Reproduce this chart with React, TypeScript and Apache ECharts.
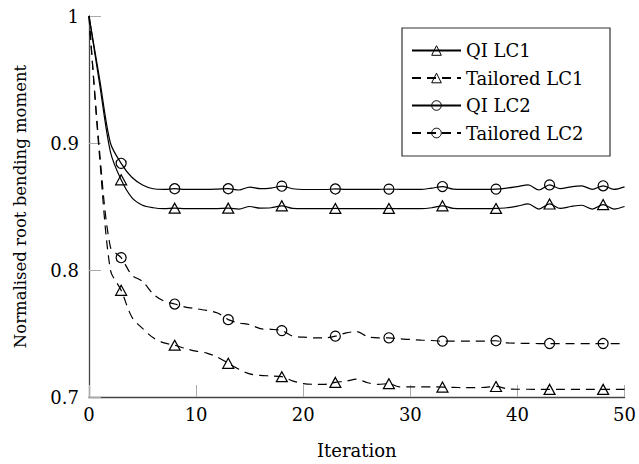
import React, { useEffect, useRef } from "react";
import * as echarts from "echarts";

const iterations = [
  0, 1, 2, 3, 4, 5, 6, 7, 8, 9, 10, 11, 12, 13, 14, 15, 16, 17, 18, 19, 20,
  21, 22, 23, 24, 25, 26, 27, 28, 29, 30, 31, 32, 33, 34, 35, 36, 37, 38, 39,
  40, 41, 42, 43, 44, 45, 46, 47, 48, 49, 50,
];

const qiLC1 = [
  1.0, 0.946, 0.893, 0.871, 0.857, 0.851, 0.849, 0.8483, 0.8487, 0.8483,
  0.8483, 0.8483, 0.8484, 0.8487, 0.848, 0.85, 0.8487, 0.849, 0.8505, 0.8485,
  0.8483, 0.8483, 0.8483, 0.8485, 0.8483, 0.8483, 0.8483, 0.8483, 0.8485, 0.8483,
  0.8483, 0.8483, 0.849, 0.8505, 0.8485, 0.8483, 0.8483, 0.8483, 0.8485, 0.849,
  0.8503, 0.852, 0.848, 0.852, 0.8485, 0.85, 0.851, 0.848, 0.8515, 0.848, 0.85,
];

const tailoredLC1 = [
  1.0, 0.888, 0.8, 0.784, 0.763, 0.754, 0.7466, 0.7426, 0.7408, 0.7382,
  0.7361, 0.7346, 0.7314, 0.7265, 0.7218, 0.7182, 0.717, 0.7166, 0.716, 0.7127,
  0.7106, 0.71, 0.71, 0.7115, 0.7125, 0.714, 0.7112, 0.71, 0.7105, 0.708,
  0.708, 0.708, 0.708, 0.7078, 0.7076, 0.7074, 0.7074, 0.7076, 0.7083, 0.7065,
  0.7061, 0.7061, 0.706, 0.706, 0.706, 0.706, 0.706, 0.706, 0.706, 0.706, 0.706,
];

const qiLC2 = [
  1.0, 0.95, 0.9, 0.884, 0.873, 0.867, 0.864, 0.8635, 0.864, 0.8635,
  0.8635, 0.8635, 0.8637, 0.864, 0.863, 0.8653, 0.864, 0.8645, 0.866, 0.864,
  0.8634, 0.8634, 0.8634, 0.8638, 0.8635, 0.8635, 0.8635, 0.8635, 0.8637, 0.8635,
  0.8635, 0.8635, 0.8645, 0.8657, 0.8637, 0.8635, 0.8635, 0.8635, 0.8637, 0.8645,
  0.8657, 0.867, 0.863, 0.867, 0.864, 0.8655, 0.8663, 0.8635, 0.8663, 0.8635, 0.8655,
];

const tailoredLC2 = [
  1.0, 0.892, 0.818, 0.8097, 0.796, 0.791, 0.781, 0.7755, 0.7732, 0.7708,
  0.7695, 0.7682, 0.7661, 0.7609, 0.7583, 0.757, 0.7538, 0.7533, 0.7523, 0.7479,
  0.7471, 0.7466, 0.7466, 0.7479, 0.7505, 0.7515, 0.7475, 0.7466, 0.7466, 0.7458,
  0.7453, 0.7448, 0.7445, 0.744, 0.744, 0.744, 0.744, 0.744, 0.7443, 0.7426,
  0.7424, 0.7422, 0.7421, 0.7421, 0.7421, 0.7421, 0.7421, 0.7421, 0.7421, 0.7421, 0.7421,
];

const markerIterations = [3, 8, 13, 18, 23, 28, 33, 38, 43, 48];
const seriesNames = ["QI LC1", "Tailored LC1", "QI LC2", "Tailored LC2"];
const yTickLabels: Record<string, string> = { "0.7": "0.7", "0.8": "0.8", "0.9": "0.9", "1": "1" };

const FONT = "DejaVu Serif";
const FS = 18;

function buildData(values: number[], symbol: string) {
  return iterations.map((it, i) => ({
    value: [it, values[i]],
    symbol: markerIterations.includes(it) ? symbol : "none",
  }));
}

function makeSeries(name: string, values: number[], symbol: string, dashed: boolean) {
  return {
    name,
    type: "line",
    data: buildData(values, symbol),
    smooth: 0.3,
    symbol,
    symbolSize: symbol === "triangle" ? [11, 10] : 10,
    showAllSymbol: true,
    lineStyle: {
      color: "#000",
      width: 1.2,
      type: dashed ? [9, 6] : "solid",
    },
    itemStyle: {
      color: "rgba(255,255,255,0)",
      borderColor: "#000",
      borderWidth: 1.2,
    },
    emphasis: { disabled: true },
  };
}

export default function App() {
  const ref = useRef<HTMLDivElement>(null);

  useEffect(() => {
    if (!ref.current) return;
    const chart = echarts.init(ref.current, undefined, { renderer: "svg" });
    chart.setOption({
      animation: false,
      backgroundColor: "#fff",
      grid: { left: 89, right: 12, top: 16, bottom: 64.5, containLabel: false },
      xAxis: {
        type: "value",
        min: 0,
        max: 50,
        interval: 10,
        name: "Iteration",
        nameLocation: "middle",
        nameGap: 44,
        nameTextStyle: { fontFamily: FONT, fontSize: FS, color: "#000" },
        axisLine: { show: true, lineStyle: { color: "#444", width: 1.3 } },
        axisTick: { show: true, inside: true, length: 12, lineStyle: { color: "#aaa", width: 1 } },
        axisLabel: { margin: 8, fontFamily: FONT, fontSize: FS, color: "#000" },
        splitLine: { show: false },
      },
      yAxis: {
        type: "value",
        min: 0.7,
        max: 1,
        interval: 0.1,
        name: "Normalised root bending moment",
        nameLocation: "middle",
        nameGap: 60,
        nameRotate: 90,
        nameTextStyle: { fontFamily: FONT, fontSize: 16.5, color: "#000" },
        axisLine: { show: true, lineStyle: { color: "#444", width: 1.3 } },
        axisTick: { show: true, inside: true, length: 12, lineStyle: { color: "#aaa", width: 1 } },
        axisLabel: {
          margin: 10,
          fontFamily: FONT,
          fontSize: FS,
          color: "#000",
          formatter: (v: number) => {
            const key = String(Math.round(v * 10) / 10);
            return yTickLabels[key] ?? key;
          },
        },
        splitLine: { show: false },
      },
      graphic: [
        {
          type: "rect",
          z: 3,
          shape: { x: 402, y: 28, width: 208, height: 128 },
          style: { fill: "#fff", stroke: "#333", lineWidth: 1.2 },
        },
      ],
      legend: {
        data: seriesNames,
        orient: "vertical",
        left: 411,
        top: 40.5,
        padding: 0,
        itemWidth: 49,
        itemHeight: 12,
        itemGap: 7.5,
        selectedMode: false,
        z: 5,
        itemStyle: { color: "rgba(255,255,255,0)", borderColor: "#000", borderWidth: 1 },
        textStyle: { fontFamily: FONT, fontSize: FS, lineHeight: 20, color: "#000" },
      },
      series: [
        makeSeries(seriesNames[0], qiLC1, "triangle", false),
        makeSeries(seriesNames[1], tailoredLC1, "triangle", true),
        makeSeries(seriesNames[2], qiLC2, "circle", false),
        makeSeries(seriesNames[3], tailoredLC2, "circle", true),
      ],
    });
    return () => chart.dispose();
  }, []);

  return (
    <div
      ref={ref}
      style={{ position: "fixed", left: 0, top: 0, width: 639, height: 464, background: "#fff" }}
    />
  );
}
